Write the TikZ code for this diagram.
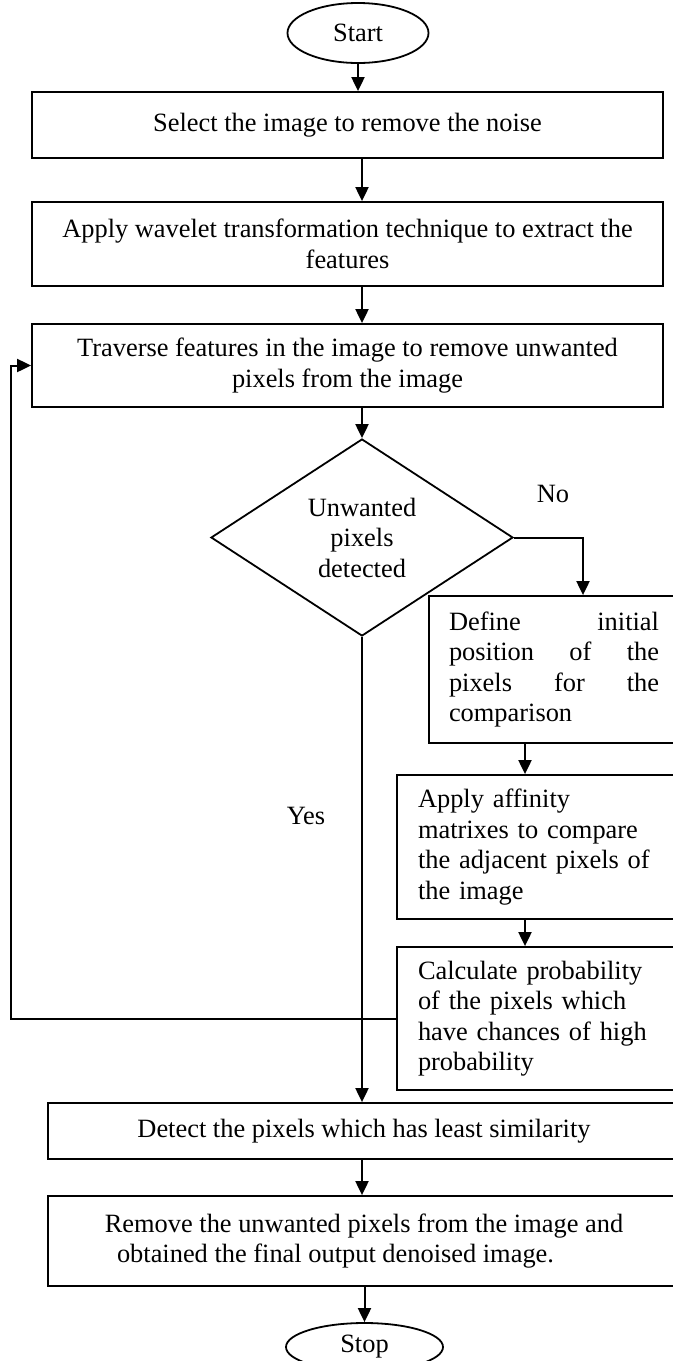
\documentclass[tikz,border=0pt]{standalone}
\usepackage{fontspec}
\setmainfont{Liberation Serif}
\usetikzlibrary{arrows.meta,shapes.geometric}
\tikzset{
  >={Triangle[length=7pt,width=6.5pt]},
  terminal/.style={
    ellipse,
    draw,
    line width=0.9pt,
    inner sep=0pt,
    font=\flowfont
  },
  process box/.style={
    rectangle,
    draw,
    line width=0.9pt,
    inner sep=0pt,
    align=center,
    font=\flowfont
  },
  side box/.style={
    rectangle,
    draw,
    line width=0.9pt,
    inner xsep=10.5pt,
    inner ysep=0pt,
    text width=120.5pt,
    align=left,
    font=\flowfont
  },
  decision/.style={
    diamond,
    draw,
    line width=0.9pt,
    inner sep=0pt,
    aspect=1.5,
    align=center,
    font=\flowfont
  },
  connection/.style={
    draw,
    line width=1pt,
    ->
  },
  branch label/.style={
    font=\flowfont,
    inner sep=0pt
  }
}
\newcommand{\flowfont}{\fontsize{13.2}{15.25}\selectfont}

\begin{document}
\begin{tikzpicture}[x=0.5pt,y=-0.5pt]
  \useasboundingbox (0,0) rectangle (673,1361);

  \node[terminal,minimum width=70.5pt,minimum height=30pt] (start) at (358,33) {Start};

  \node[process box,minimum width=315.5pt,minimum height=33pt] (select) at (347.5,125)
    {Select the image to remove the noise};
  \node[process box,minimum width=315.5pt,minimum height=42pt] (wavelet) at (347.5,244)
    {Apply wavelet transformation technique to extract the\\ features};
  \node[process box,minimum width=315.5pt,minimum height=41.5pt] (traverse) at (347.5,365.5)
    {Traverse features in the image to remove unwanted\\ pixels from the image};

  \node[decision,minimum width=151pt,minimum height=98.5pt] (dec) at (362,537.5)
    {Unwanted\\ pixels\\ detected};

  \node[side box,text width=105pt,inner xsep=10pt,minimum height=73.5pt] (define) at (554,669.5)
    {Define\hfill initial\\ position\hfill of\hfill the\\ pixels\hfill for\hfill the\\ comparison};
  \node[side box,minimum height=72pt] (affinity) at (538.5,847)
    {Apply affinity\\ matrixes to compare\\ the adjacent pixels of\\ the image};
  \node[side box,minimum height=71.5pt] (calc) at (538.5,1018.5)
    {Calculate probability\\ of the pixels which\\ have chances of high\\ probability};

  \node[process box,minimum width=316pt,minimum height=28pt] (least) at (364,1131)
    {Detect the pixels which has least similarity};
  \node[process box,minimum width=316pt,minimum height=45pt] (remove) at (364,1241)
    {Remove the unwanted pixels from the image and\\ obtained the final output denoised image.\hspace*{28.5pt}};

  \node[terminal,minimum width=78.5pt,minimum height=24pt] (stop) at (364.5,1347) {Stop};

  \node[branch label] (no) at (553,494) {No};
  \node[branch label] (yes) at (306,816) {Yes};

  \coordinate (nobend) at (583,537.5);
  \coordinate (loop) at (11,1018.5);

  % main column
  \draw[connection] (start) -- (start |- select.north);
  \draw[connection] (select.south -| dec.north) -- (wavelet.north -| dec.north);
  \draw[connection] (wavelet.south -| dec.north) -- (traverse.north -| dec.north);
  \draw[connection] (traverse.south -| dec.north) -- (dec.north);

  % no branch
  \draw[connection] (dec.east) -- (nobend) -- (nobend |- define.north);
  \draw[connection] ([xshift=-14.5pt]define.south) -- ([xshift=-14.5pt]define.south |- affinity.north);
  \draw[connection] ([xshift=-6.75pt]affinity.south) -- ([xshift=-6.75pt]affinity.south |- calc.north);
  \draw[connection] (calc.west) -- (loop) |- (traverse.west);

  % yes branch
  \draw[connection] (dec.south) -- (dec.south |- least.north);
  \draw[connection] (least.south -| dec.south) -- (remove.north -| dec.south);
  \draw[connection] (remove.south -| stop) -- (stop);
\end{tikzpicture}
\end{document}
